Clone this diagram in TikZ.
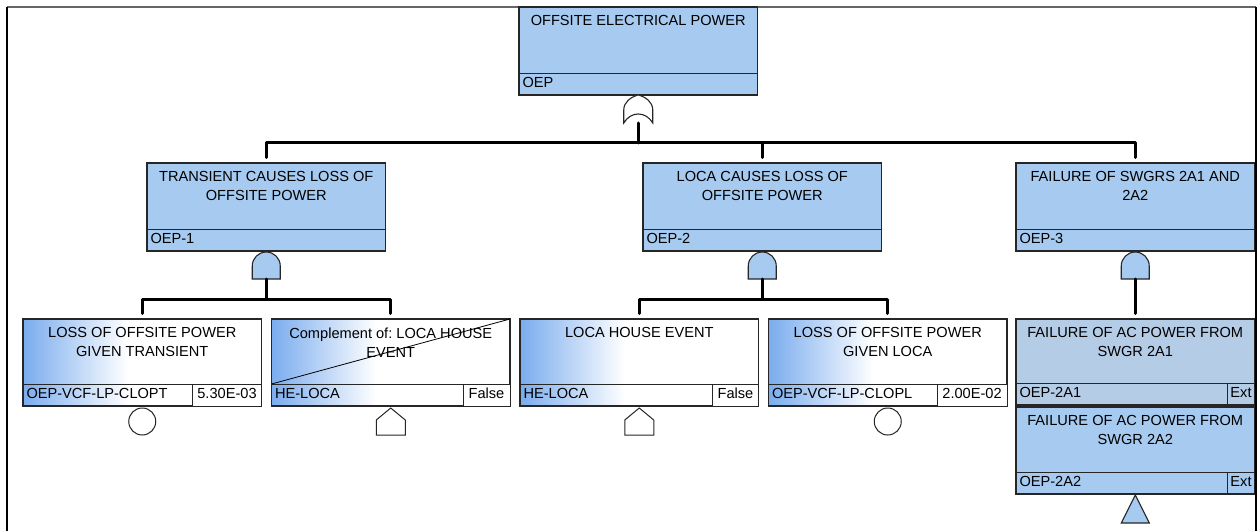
\documentclass[tikz,border=0pt]{standalone}
\usepackage{fontspec}
\setmainfont{Liberation Sans}
\usetikzlibrary{positioning}
\definecolor{gateblue}{RGB}{166,202,240}
\definecolor{extblue}{RGB}{180,204,230}
\definecolor{evblue}{RGB}{122,172,238}
\pgfdeclarehorizontalshading{evfade}{100bp}{color(0bp)=(evblue); color(25bp)=(evblue); color(47bp)=(white); color(100bp)=(white)}
\frenchspacing

\begin{document}
\begin{tikzpicture}[
  x=1pt, y=1pt,
  every node/.style={outer sep=0pt},
  ftbox/.style={draw=black!85, line width=1.2pt, minimum width=238.5pt, minimum height=88pt, anchor=north west, inner sep=0pt},
  gatebox/.style={ftbox, fill=gateblue},
  evtbox/.style={ftbox, minimum height=87pt, shade, shading=evfade},
  boxtitle/.style={anchor=north, inner sep=0pt, align=center, font=\fontsize{14.6}{19}\selectfont},
  idcell/.style={draw=black!85, line width=0.8pt, anchor=south west, minimum height=22pt, text width=231.5pt, inner xsep=3.5pt, inner ysep=0pt, text height=10.5pt, text depth=3pt, align=left, font=\fontsize{14.6}{19}\selectfont},
  valcell/.style={draw=black!85, line width=0.8pt, fill=white, anchor=south east, minimum width=#1, minimum height=22pt, inner sep=0pt, text height=10.5pt, text depth=3pt, font=\fontsize{14.6}{19}\selectfont},
  wire/.style={line width=3pt, line join=round, line cap=round},
  gateshape/.style={draw=black!85, line width=1.1pt, fill=gateblue},
  evcircle/.style={circle, draw=black!85, line width=1pt, fill=white, minimum size=27pt, inner sep=0pt},
  evhouse/.style={draw=black!85, line width=1pt, fill=white}
]
  \useasboundingbox (0,0) rectangle (1257,531);
  % frame
  \draw[black!60, line width=2pt] (7,524) -- (1256,524);
  \draw[line width=1.6pt] (7,0) -- (7,524);
  \draw[line width=1.2pt] (1256,0) -- (1256,524);

  % gates and events
  \node[gatebox] (oep) at (519,524) {};
  \node[gatebox] (oep1) at (147,368) {};
  \node[gatebox] (oep2) at (643,368) {};
  \node[gatebox] (oep3) at (1016,368) {};
  \node[evtbox] (evA) at (23,212) {};
  \node[evtbox, right=10pt of evA] (evB) {};
  \node[evtbox, right=10pt of evB] (evC) {};
  \node[evtbox, right=10pt of evC] (evD) {};
  \node[ftbox, fill=extblue, minimum height=86pt] (sw1) at (1016,212) {};
  \node[gatebox, minimum height=87pt, below=2pt of sw1] (sw2) {};

  \node[boxtitle] (oeptxt) at ([yshift=-8pt]oep.north) {OFFSITE ELECTRICAL POWER};
  \node[idcell] (oepid) at (oep.south west) {OEP};
  \node[boxtitle] (oep1txt) at ([yshift=-8.5pt]oep1.north) {TRANSIENT CAUSES LOSS OF\\OFFSITE POWER};
  \node[idcell] (oep1id) at (oep1.south west) {OEP-1};
  \node[boxtitle] (oep2txt) at ([yshift=-8.5pt]oep2.north) {LOCA CAUSES LOSS OF\\OFFSITE POWER};
  \node[idcell] (oep2id) at (oep2.south west) {OEP-2};
  \node[boxtitle] (oep3txt) at ([yshift=-8.5pt]oep3.north) {FAILURE OF SWGRS 2A1 AND\\2A2};
  \node[idcell] (oep3id) at (oep3.south west) {OEP-3};

  \node[boxtitle] (evAtxt) at ([yshift=-8.5pt]evA.north) {LOSS OF OFFSITE POWER\\GIVEN TRANSIENT};
  \node[idcell] (evAid) at (evA.south west) {OEP-VCF-LP-CLOPT};
  \node[valcell=69pt] (evAval) at (evA.south east) {5.30E-03};
  \node[boxtitle] (evBtxt) at ([yshift=-8.5pt]evB.north) {Complement of: LOCA HOUSE\\EVENT};
  \node[idcell] (evBid) at (evB.south west) {HE-LOCA};
  \node[valcell=47pt] (evBval) at (evB.south east) {False};
  \draw[line width=0.8pt] (evBid.north west) -- (evB.north east);
  \node[boxtitle] (evCtxt) at ([yshift=-8.5pt]evC.north) {LOCA HOUSE EVENT};
  \node[idcell] (evCid) at (evC.south west) {HE-LOCA};
  \node[valcell=46pt] (evCval) at (evC.south east) {False};
  \node[boxtitle] (evDtxt) at ([yshift=-8.5pt]evD.north) {LOSS OF OFFSITE POWER\\GIVEN LOCA};
  \node[idcell] (evDid) at (evD.south west) {OEP-VCF-LP-CLOPL};
  \node[valcell=70pt] (evDval) at (evD.south east) {2.00E-02};
  \node[boxtitle] (sw1txt) at ([yshift=-8.5pt]sw1.north) {FAILURE OF AC POWER FROM\\SWGR 2A1};
  \node[idcell] (sw1id) at (sw1.south west) {OEP-2A1};
  \node[valcell=27pt, fill=none] (sw1val) at (sw1.south east) {Ext};
  \node[boxtitle] (sw2txt) at ([yshift=-8pt]sw2.north) {FAILURE OF AC POWER FROM\\SWGR 2A2};
  \node[idcell] (sw2id) at (sw2.south west) {OEP-2A2};
  \node[valcell=27pt, fill=none] (sw2val) at (sw2.south east) {Ext};

  % logic gates
  \coordinate[below=28pt of oep] (orgate);
  \draw[gateshape, fill=white] (orgate) ++(-14.5,0) -- ++(0,13) .. controls +(0,8) and +(-7.5,-2) .. ++(14.5,15) .. controls +(7.5,-2) and +(0,8) .. ++(14.5,-15) -- ++(0,-13) .. controls +(-7,12) and +(7,12) .. ++(-29,0) -- cycle;
  \coordinate[below=28pt of oep1] (andA);
  \draw[gateshape] (andA) ++(-14,0) -- ++(0,13) arc[start angle=180, end angle=0, radius=14] -- ++(0,-13) -- cycle;
  \coordinate[below=28pt of oep2] (andB);
  \draw[gateshape] (andB) ++(-14,0) -- ++(0,13) arc[start angle=180, end angle=0, radius=14] -- ++(0,-13) -- cycle;
  \coordinate[below=28pt of oep3] (andC);
  \draw[gateshape] (andC) ++(-14,0) -- ++(0,13) arc[start angle=180, end angle=0, radius=14] -- ++(0,-13) -- cycle;

  % wires
  \draw[wire] (orgate) -- ++(0,-20) coordinate (bus0);
  \draw[wire, shorten >=5.5pt] (bus0) -| (oep1.north);
  \draw[wire, shorten >=5.5pt] (bus0) -| (oep2.north);
  \draw[wire, shorten >=5.5pt] (bus0) -| (oep3.north);
  \draw[wire] (andA) -- ++(0,-20) coordinate (bus1);
  \draw[wire, shorten >=5.5pt] (bus1) -| (evA.north);
  \draw[wire, shorten >=5.5pt] (bus1) -| (evB.north);
  \draw[wire] (andB) -- ++(0,-20) coordinate (bus2);
  \draw[wire, shorten >=5.5pt] (bus2) -| (evC.north);
  \draw[wire, shorten >=5.5pt] (bus2) -| (evD.north);
  \draw[wire, shorten >=5.5pt] (andC) -- (sw1.north);

  % event symbols
  \node[evcircle, below=2pt of evA] (evAsym) {};
  \coordinate[below=2pt of evB] (evBsym);
  \draw[evhouse] (evBsym) -- ++(14.5,-12) -- ++(0,-15) -- ++(-29,0) -- ++(0,15) -- cycle;
  \coordinate[below=2pt of evC] (evCsym);
  \draw[evhouse] (evCsym) -- ++(14.5,-12) -- ++(0,-15) -- ++(-29,0) -- ++(0,15) -- cycle;
  \node[evcircle, below=2pt of evD] (evDsym) {};
  \coordinate[below=1pt of sw2] (sw2sym);
  \draw[gateshape] (sw2sym) -- ++(14,-28) -- ++(-28,0) -- cycle;
\end{tikzpicture}
\end{document}
